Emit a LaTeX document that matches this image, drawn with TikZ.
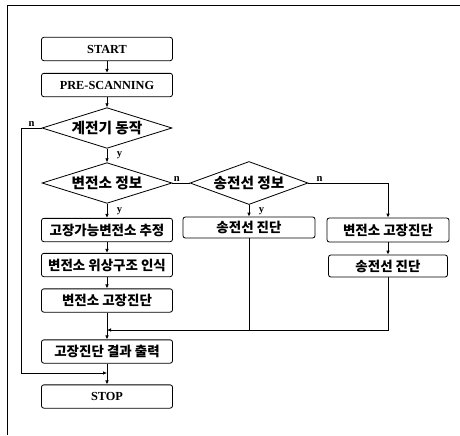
\documentclass[tikz,border=0pt]{standalone}
\usepackage{fontspec}
\setmainfont{Liberation Serif}
\newfontfamily\kor{Noto Sans CJK KR}
\usetikzlibrary{arrows.meta,shapes.geometric}

\begin{document}
\begin{tikzpicture}[
    x=0.03cm,y=-0.03cm,
    box/.style={rectangle,rounded corners=2pt,draw,line width=0.7pt,
      minimum width=3.93cm,minimum height=0.7cm,inner sep=0pt,align=center,
      font=\kor\bfseries\fontsize{11.5}{13}\selectfont},
    term/.style={box,font=\bfseries\fontsize{10.5}{12}\selectfont},
    decision/.style={diamond,draw,line width=0.7pt,inner sep=0pt,aspect=3,
      minimum width=3.9cm,minimum height=1.22cm,
      font=\kor\bfseries\fontsize{12.5}{14}\selectfont},
    arrow/.style={-{Latex[length=1.2mm,width=1.1mm]},line width=0.7pt},
    link/.style={line width=0.7pt},
    yn/.style={font=\bfseries\fontsize{9}{10}\selectfont,inner sep=1pt}
  ]
    \useasboundingbox (0,0) rectangle (460,435);
    % frame
    \draw[line width=0.8pt] (7,435) -- (7,5) -- (460,5);

    % left column
    \node[term] (start) at (107,49) {START};
    \node[term] (prescan) at (107,85) {PRE-SCANNING};
    \node[decision] (relay) at (107,128) {계전기 동작};
    \node[decision] (subinfo) at (107,183) {변전소 정보};
    \node[box] (estimate) at (107,230) {고장가능변전소 추정};
    \node[box] (topology) at (107,265) {변전소 위상구조 인식};
    \node[box] (subdiag) at (107,300.5) {변전소 고장진단};
    \node[box] (output) at (107,351.5) {고장진단 결과 출력};
    \node[term] (stop) at (107,396.5) {STOP};

    % middle and right columns
    \node[decision,minimum width=3.54cm,minimum height=1.29cm] (lineinfo) at (249,183) {송전선 정보};
    \node[box,minimum width=3.96cm,minimum height=0.63cm] (linediag) at (249,227.5) {송전선 진단};
    \node[box,minimum width=3.66cm,minimum height=0.72cm] (subdiagB) at (388,230) {변전소 고장진단};
    \node[box,minimum width=3.57cm,minimum height=0.66cm] (linediagB) at (388,266) {송전선 진단};

    \coordinate (merge) at (107,330);
    \coordinate (back) at (107,373);

    \draw[arrow] (start) -- (prescan);
    \draw[arrow] (prescan) -- (relay);
    \draw[arrow] (relay) -- node[yn,right=7pt] {y} (subinfo);
    \draw[arrow] (subinfo) -- node[yn,right=7pt] {y} (estimate);
    \draw[arrow] (estimate) -- (topology);
    \draw[arrow] (topology) -- (subdiag);
    \draw[link] (subdiag) -- (merge);
    \draw[arrow] (merge) -- (output);
    \draw[link] (output) -- (back);
    \draw[arrow] (back) -- (stop);

    \draw[arrow] (relay.west) -- node[yn,above] {n} ++(-20,0) |- (back);
    \draw[link] (subinfo.east) -- node[yn,above,pos=0.25] {n} (lineinfo.west);
    \draw[arrow] (lineinfo) -- node[yn,right=7pt] {y} (linediag);
    \draw[arrow] (lineinfo.east) -| node[yn,above,pos=0.07] {n} (subdiagB.north);
    \draw[arrow] (subdiagB) -- (linediagB);
    \draw[arrow] (linediagB.south) |- (merge);
    \draw[link] (linediag.south) -- (linediag.south |- merge);
  \end{tikzpicture}
\end{document}
